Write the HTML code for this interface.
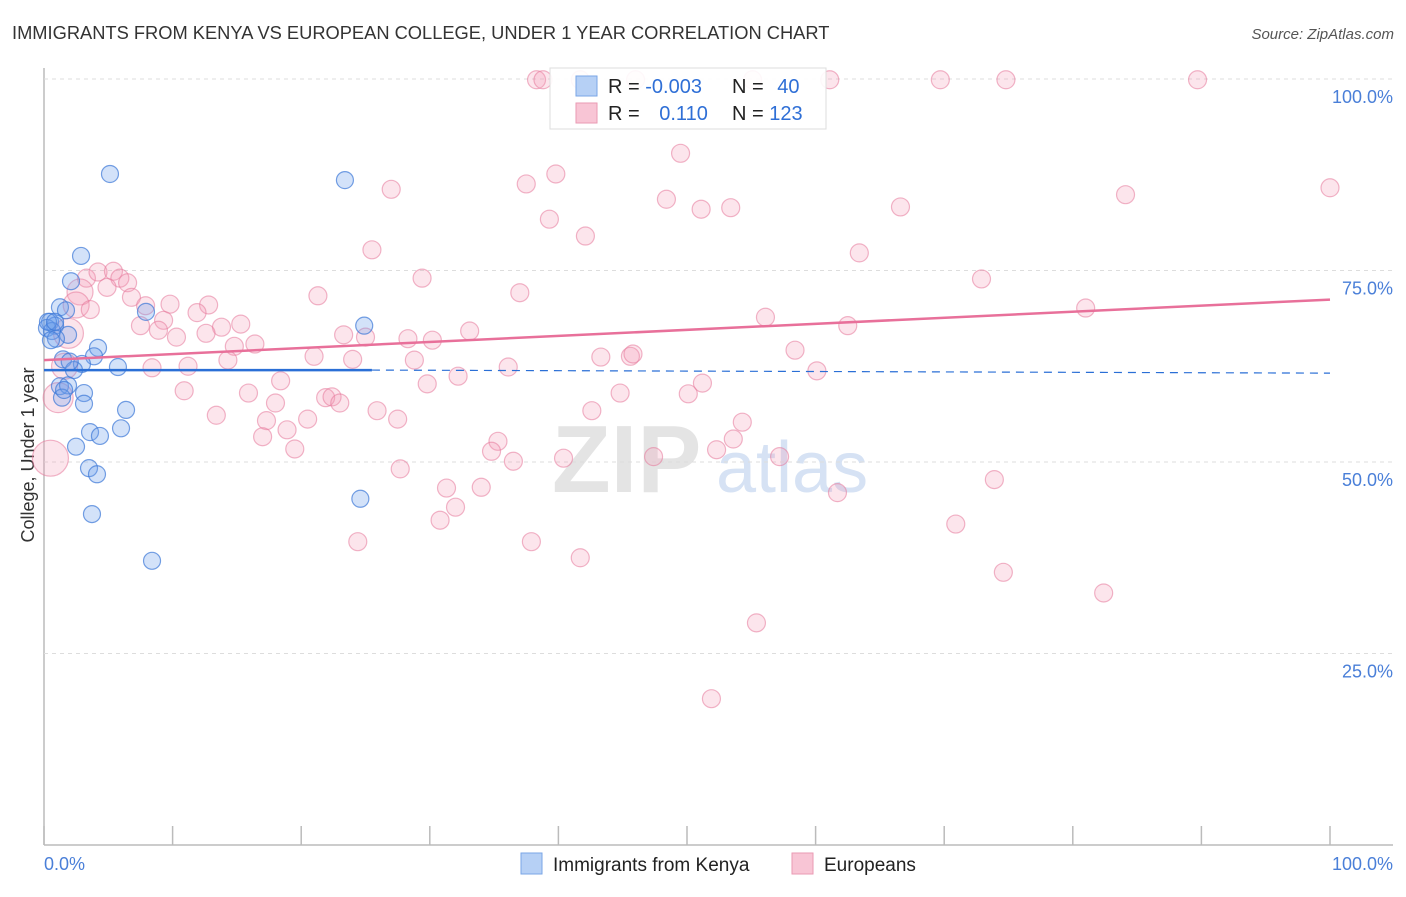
<!DOCTYPE html>
<html><head><meta charset="utf-8"><style>
body{margin:0;background:#fff;font-family:"Liberation Sans",sans-serif;}
svg text{font-family:"Liberation Sans",sans-serif;}
</style></head><body>
<svg id="c" width="1406" height="892" xmlns="http://www.w3.org/2000/svg">
<text x="12" y="39" font-size="18.3" fill="#333">IMMIGRANTS FROM KENYA VS EUROPEAN COLLEGE, UNDER 1 YEAR CORRELATION CHART</text>
<text x="1394" y="39" font-size="15" fill="#555" font-style="italic" text-anchor="end">Source: ZipAtlas.com</text>
<text transform="translate(34,455) rotate(-90)" font-size="18" fill="#333" text-anchor="middle">College, Under 1 year</text>
<g><text x="552" y="492" font-size="96" font-family="Liberation Serif,serif" fill="#e4e4e4" font-weight="bold">ZIP</text><text x="716" y="492" font-size="72" fill="#d6e2f4">atlas</text></g>
<g id="grid"></g><g id="pts"></g><g id="lines"></g>
<g>
<rect x="550" y="68" width="276" height="61" fill="#fff" fill-opacity="0.9" stroke="#ddd"/>
<rect x="576" y="76" width="21" height="20" fill="#b6d0f5" stroke="#7aa6e6"/>
<rect x="576" y="103" width="21" height="20" fill="#f8c5d5" stroke="#ea9ab3"/>
<text x="608" y="93" font-size="20" fill="#222">R = <tspan fill="#2f6fd6">-0.003</tspan></text>
<text x="732" y="93" font-size="20" fill="#222">N = <tspan fill="#2f6fd6" dx="8">40</tspan></text>
<text x="608" y="120" font-size="20" fill="#222">R = <tspan fill="#2f6fd6" dx="14">0.110</tspan></text>
<text x="732" y="120" font-size="20" fill="#222">N = <tspan fill="#2f6fd6">123</tspan></text>
</g>
<g>
<rect x="521" y="853" width="21" height="21" fill="#b6d0f5" stroke="#7aa6e6"/>
<text x="553" y="871" font-size="19" fill="#222">Immigrants from Kenya</text>
<rect x="792" y="853" width="21" height="21" fill="#f8c5d5" stroke="#ea9ab3"/>
<text x="824" y="871" font-size="19" fill="#222">Europeans</text>
</g>
</svg>
<script>
const blueX=[5.13,23.4,2.88,2.1,1.24,1.71,7.93,24.9,0.47,0.86,0.23,0.62,1.87,0.93,1.48,4.2,3.89,2.95,2.33,5.75,1.24,1.87,3.11,1.4,3.11,6.38,5.99,3.58,4.35,2.49,3.5,4.12,3.73,8.4,24.6,0.54,0.31,0.86,1.56,2.0];
const blueY=[87.6,86.8,76.9,73.6,70.2,69.8,69.6,67.8,68.3,67.8,67.5,67.1,66.6,66.1,63.4,64.9,63.8,62.8,62.0,62.4,59.9,60.0,59.0,58.4,57.6,56.8,54.4,53.9,53.4,52.0,49.2,48.4,43.2,37.1,45.2,65.9,68.3,68.3,59.4,63.1];
const pinkX=[38.3,38.8,41.7,46.0,55.1,61.1,69.7,74.8,89.7,49.5,27.0,37.5,39.8,48.4,51.1,53.4,39.3,66.6,84.1,100,42.1,25.5,63.4,29.4,72.9,37.0,21.3,81.0,56.1,62.5,33.1,23.3,25.0,28.3,30.2,58.4,43.3,45.6,45.8,21.0,24.0,28.8,36.1,60.1,32.2,29.8,51.2,18.4,44.8,50.1,15.9,18.0,21.9,22.4,23.0,25.9,27.5,20.5,42.6,54.3,13.4,17.3,18.9,17.0,19.5,35.3,34.8,53.6,52.3,40.4,47.4,57.2,36.5,27.7,73.9,31.3,34.0,61.7,32.0,30.8,70.9,24.4,37.9,41.7,74.6,82.4,55.4,51.9,3.3,4.2,5.4,5.9,6.5,4.9,2.8,6.8,2.5,7.9,9.8,12.8,9.3,11.9,7.5,8.9,10.3,13.8,15.3,12.6,14.8,16.4,14.3,11.2,8.4,10.9,1.6,1.1,0.5,1.9,3.6];
const pinkY=[99.9,99.9,99.9,99.9,99.9,99.9,99.9,99.9,99.9,90.3,85.6,86.3,87.6,84.3,83.0,83.2,81.7,83.3,84.9,85.8,79.5,77.7,77.3,74.0,73.9,72.1,71.7,70.1,68.9,67.8,67.1,66.6,66.3,66.1,65.9,64.6,63.7,63.8,64.1,63.8,63.4,63.3,62.4,61.9,61.2,60.2,60.3,60.6,59.0,58.9,59.0,57.7,58.4,58.5,57.7,56.7,55.6,55.6,56.7,55.2,56.1,55.4,54.2,53.3,51.7,52.7,51.4,53.0,51.6,50.5,50.7,50.7,50.1,49.1,47.7,46.6,46.7,46.0,44.1,42.4,41.9,39.6,39.6,37.5,35.6,32.9,29.0,19.1,74.0,74.8,74.9,74.0,73.4,72.8,72.2,71.5,70.5,70.4,70.6,70.5,68.5,69.5,67.8,67.2,66.3,67.6,68.0,66.8,65.1,65.4,63.3,62.5,62.3,59.3,62.5,58.4,50.5,66.8,69.9];
const bigPink={114:13,115:15,116:18,117:15,94:13,96:13};
const blueTrend=[62.0,62.0], pinkTrend=[63.3,71.2];
const yTicks=[25,50,75,100];
const xs=v=>44+v*12.86, ys=v=>845-v*7.66;
const NS="http://www.w3.org/2000/svg";
function mk(p,t,a){const e=document.createElementNS(NS,t);for(const k in a)e.setAttribute(k,a[k]);p.appendChild(e);return e;}
const g=document.getElementById('grid');
mk(g,'line',{x1:44,y1:68,x2:44,y2:845,stroke:'#bbb','stroke-width':1.5});
mk(g,'line',{x1:44,y1:845,x2:1393,y2:845,stroke:'#bbb','stroke-width':1.5});
for(let i=0;i<=10;i++){const l=mk(g,'line',{x1:xs(i*10),y1:826,x2:xs(i*10),y2:845,stroke:'#bbb','stroke-width':1.5});

}
yTicks.forEach(v=>{const l=mk(g,'line',{x1:44,y1:ys(v),x2:1393,y2:ys(v),stroke:'#ddd','stroke-dasharray':'4 4'});


const t=mk(g,'text',{x:1393,y:ys(v)+24,'font-size':18,fill:'#4a7fd8','text-anchor':'end'});t.textContent=v.toFixed(1)+'%';

});
const t0=mk(g,'text',{x:44,y:870,'font-size':18,fill:'#4a7fd8'});t0.textContent='0.0%';


const t1=mk(g,'text',{x:1393,y:870,'font-size':18,fill:'#4a7fd8','text-anchor':'end'});t1.textContent='100.0%';


const P=document.getElementById('pts');
pinkX.forEach((x,i)=>{const c=mk(P,'circle',{cx:xs(x),cy:ys(pinkY[i]),r:bigPink[i]||9,fill:'rgba(243,150,180,0.25)',stroke:'rgba(230,120,155,0.55)','stroke-width':1.2});

});
blueX.forEach((x,i)=>{const c=mk(P,'circle',{cx:xs(x),cy:ys(blueY[i]),r:8.5,fill:'rgba(110,160,235,0.3)',stroke:'rgba(60,120,215,0.7)','stroke-width':1.2});

});
const L=document.getElementById('lines');
const pl=mk(L,'line',{x1:xs(0),y1:ys(pinkTrend[0]),x2:xs(100),y2:ys(pinkTrend[1]),stroke:'#e8709a','stroke-width':2.5});


const bl=mk(L,'line',{x1:xs(0),y1:ys(blueTrend[0]),x2:xs(25.5),y2:ys(blueTrend[0]),stroke:'#2a6fd6','stroke-width':2.5});


const bd=mk(L,'line',{x1:xs(25.5),y1:ys(blueTrend[0]),x2:xs(100),y2:ys(blueTrend[1]-0.4),stroke:'#2a6fd6','stroke-width':1.2,'stroke-dasharray':'8 6'});


</script>
</body></html>
